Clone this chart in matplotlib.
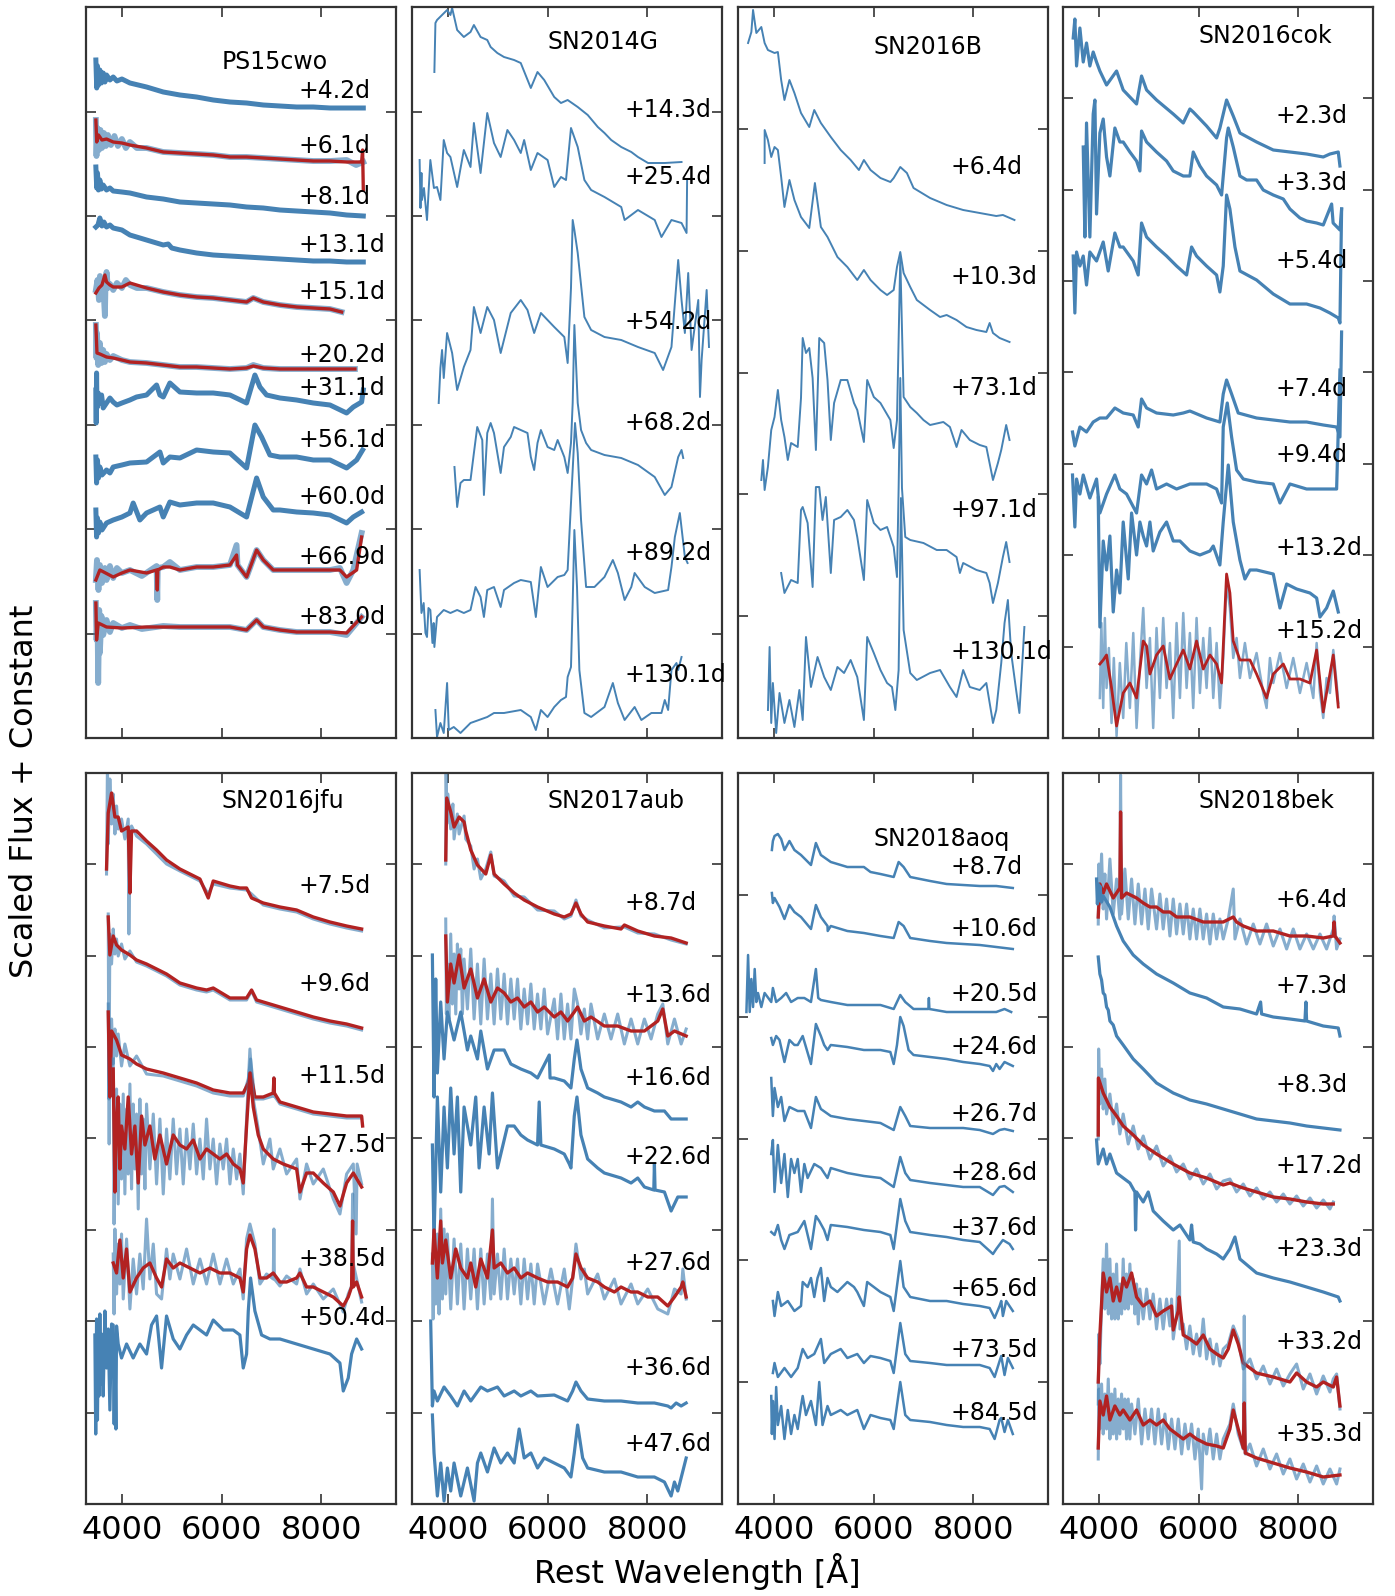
import numpy as np
import matplotlib
matplotlib.use("Agg")
import matplotlib.pyplot as plt

# ===================== DATA =====================
# Each spectrum: list of (rest wavelength [A], scaled flux + constant)
# *_RAW: unbinned spectrum drawn under a binned (red) spectrum; None = single spectrum

# ---------- PS15cwo ----------
PS15CWO_PHASES = ['+4.2d', '+6.1d', '+8.1d', '+13.1d', '+15.1d', '+20.2d',
                  '+31.1d', '+56.1d', '+60.0d', '+66.9d', '+83.0d']
PS15CWO_SPECTRA = [
    [(3478,67.8),(3495,65.0),(3510,67.2),(3530,65.3),(3558,66.8),(3590,65.5),(3625,66.5),(3660,65.6),(3692,66.3),(3760,65.8),(3826,66.1),(3900,65.7),(4000,65.9),(4161,65.5),(4495,65.1),(4830,64.6),(5164,64.3),(5499,64.1),(5833,63.8),(6168,63.6),(6502,63.5),(6837,63.3),(7171,63.2),(7506,63.1),(7840,63.1),(8175,63.0),(8509,63.0),(8844,63.0)],
    [(3478,61.8),(3495,59.6),(3530,60.3),(3600,59.8),(3692,59.9),(3826,59.6),(4000,59.5),(4161,59.3),(4495,59.0),(4830,58.6),(5164,58.5),(5499,58.4),(5833,58.3),(6168,58.1),(6502,58.1),(6837,58.0),(7171,57.9),(7506,57.8),(7840,57.7),(8175,57.7),(8509,57.6),(8810,57.6),(8830,58.8),(8844,54.8)],
    [(3478,57.1),(3495,55.0),(3510,56.5),(3530,54.8),(3558,55.8),(3590,54.9),(3625,55.3),(3692,54.8),(3760,55.0),(3826,54.7),(4000,54.6),(4161,54.5),(4495,54.1),(4830,53.9),(5164,53.6),(5499,53.5),(5833,53.4),(6168,53.3),(6502,53.1),(6837,53.0),(7171,52.8),(7506,52.7),(7840,52.6),(8175,52.5),(8509,52.3),(8844,52.2)],
    [(3478,51.1),(3520,51.3),(3558,52.0),(3600,51.2),(3640,51.6),(3692,51.1),(3760,51.3),(3826,51.0),(4000,50.8),(4161,50.3),(4495,49.8),(4830,49.3),(4930,49.4),(5000,49.0),(5164,48.8),(5499,48.5),(5833,48.3),(6168,48.2),(6502,48.1),(6837,48.0),(7171,47.9),(7506,47.8),(7840,47.7),(8175,47.7),(8509,47.6),(8844,47.6)],
    [(3478,44.5),(3540,45.0),(3600,45.3),(3659,46.3),(3692,45.6),(3760,45.3),(3826,45.1),(4000,45.1),(4161,45.5),(4495,45.0),(4830,44.6),(5164,44.3),(5499,44.1),(5833,44.0),(6168,43.8),(6502,43.6),(6636,44.0),(6837,43.6),(7171,43.3),(7506,43.1),(7840,43.0),(8175,42.9),(8409,42.6)],
    [(3478,41.3),(3500,38.5),(3558,38.4),(3692,38.1),(3826,38.0),(4000,37.8),(4161,37.6),(4495,37.5),(4830,37.3),(5164,37.1),(5499,37.1),(5833,37.0),(6168,36.9),(6502,37.0),(6636,37.2),(6837,37.0),(7171,36.9),(7506,36.9),(7840,36.9),(8175,36.9),(8676,36.9)],
    [(3478,34.8),(3485,31.5),(3492,36.5),(3500,33.0),(3525,34.5),(3558,33.5),(3592,34.3),(3625,33.0),(3692,33.5),(3760,34.0),(3826,33.6),(3900,33.3),(4000,33.5),(4161,33.8),(4294,34.1),(4495,34.3),(4696,35.3),(4763,34.3),(4830,34.1),(4963,35.5),(5164,34.6),(5499,34.5),(5833,34.5),(6168,34.3),(6502,33.5),(6669,36.3),(6770,35.1),(6903,34.3),(7171,34.0),(7506,33.8),(7840,33.5),(8175,33.3),(8509,32.5),(8643,33.1),(8810,33.6),(8844,34.8)],
    [(3478,28.1),(3492,25.5),(3510,27.8),(3530,26.0),(3558,27.1),(3600,26.3),(3692,26.8),(3760,26.5),(3826,27.1),(4000,27.3),(4161,27.5),(4495,27.6),(4763,28.6),(4830,27.5),(4963,28.1),(5164,28.0),(5499,28.8),(5833,28.6),(6168,28.5),(6502,27.0),(6669,31.3),(6803,30.1),(6970,28.3),(7171,28.1),(7506,28.1),(7840,27.8),(8175,27.8),(8509,27.0),(8710,27.8),(8830,28.8)],
    [(3478,22.8),(3492,20.1),(3510,22.0),(3530,20.5),(3558,21.6),(3600,20.8),(3692,21.5),(3826,21.8),(4000,22.1),(4161,22.5),(4227,23.5),(4361,21.8),(4495,22.5),(4763,23.1),(4830,22.1),(4963,23.6),(5164,23.3),(5499,23.5),(5833,23.5),(6168,23.1),(6502,22.1),(6703,26.0),(6837,24.1),(7037,22.8),(7171,22.8),(7506,22.6),(7840,22.5),(8175,22.3),(8509,21.5),(8643,22.1),(8810,22.6)],
    [(3478,15.8),(3558,16.8),(3826,16.1),(4000,16.5),(4161,16.8),(4495,16.5),(4696,16.8),(4710,14.8),(4720,16.8),(4830,17.1),(4963,17.1),(5164,16.8),(5499,17.1),(5833,17.1),(6168,17.3),(6301,18.3),(6320,17.3),(6502,16.1),(6703,18.8),(6837,17.8),(7037,16.8),(7506,16.8),(8175,16.8),(8375,16.8),(8509,16.1),(8710,16.8),(8810,20.1)],
    [(3478,13.5),(3492,9.8),(3525,11.5),(3692,11.1),(4000,11.0),(4495,11.1),(4830,11.1),(5499,11.1),(6168,11.1),(6502,10.8),(6703,11.8),(6837,11.1),(7171,10.8),(7506,10.6),(8175,10.6),(8509,10.5),(8810,12.1)],
]
PS15CWO_RAW = [
    None,
    [(3478,61.8),(3490,58.2),(3510,61.0),(3540,58.8),(3570,60.8),(3600,59.0),(3640,60.5),(3680,59.2),(3720,60.3),(3780,59.3),(3850,60.2),(3920,59.2),(4000,59.9),(4080,59.0),(4161,59.6),(4300,59.0),(4495,59.0),(4830,58.6),(5164,58.5),(5499,58.4),(5833,58.3),(6168,58.1),(6502,58.1),(6837,58.0),(7171,57.9),(7506,57.8),(7840,57.7),(8175,57.7),(8509,57.8),(8700,57.3),(8844,57.6)],
    None, None,
    [(3478,44.8),(3510,45.8),(3540,43.8),(3560,46.2),(3600,44.5),(3625,45.5),(3659,42.2),(3670,45.0),(3692,46.6),(3720,45.0),(3760,45.4),(3826,44.8),(3900,45.5),(4000,45.0),(4080,45.8),(4161,45.3),(4300,45.0),(4495,45.0),(4830,44.6),(5164,44.3),(5499,44.1),(5833,44.0),(6168,43.8),(6502,43.6),(6636,44.0),(6837,43.6),(7171,43.3),(7506,43.1),(7840,43.0),(8175,42.9),(8409,42.6)],
    [(3478,41.3),(3490,38.0),(3500,40.5),(3525,37.3),(3558,39.5),(3592,37.5),(3625,38.8),(3659,37.6),(3692,38.4),(3760,37.8),(3826,38.2),(4000,37.8),(4161,37.6),(4495,37.5),(4830,37.3),(5164,37.1),(5499,37.1),(5833,37.0),(6168,36.9),(6502,37.0),(6636,37.3),(6837,37.0),(7171,36.9),(7506,36.9),(7840,36.9),(8175,36.9),(8676,36.9)],
    None, None, None,
    [(3478,15.8),(3500,17.8),(3530,14.8),(3558,17.3),(3600,15.5),(3659,17.0),(3692,15.8),(3760,17.2),(3826,16.0),(3900,17.0),(4000,16.5),(4161,16.8),(4400,16.2),(4696,17.2),(4710,13.8),(4720,17.0),(4830,17.1),(4963,17.6),(5164,16.8),(5499,17.1),(5833,17.1),(6168,17.3),(6301,19.3),(6320,17.3),(6502,16.1),(6703,18.8),(6837,17.8),(7037,16.8),(7171,16.8),(7506,16.8),(7840,16.8),(8175,16.8),(8375,17.0),(8509,15.5),(8643,16.8),(8810,20.5)],
    [(3478,13.5),(3492,9.8),(3510,12.5),(3525,5.5),(3545,12.8),(3558,8.5),(3590,12.2),(3625,10.3),(3692,11.8),(3760,10.6),(3826,11.5),(4000,11.0),(4161,11.3),(4400,10.9),(4830,11.2),(5164,11.1),(5499,11.1),(5833,11.1),(6168,11.1),(6502,10.8),(6703,11.8),(6837,11.1),(7171,10.8),(7506,10.6),(7840,10.6),(8175,10.6),(8509,10.3),(8810,12.1)],
]

# ---------- SN2014G ----------
SN2014G_PHASES = ['+14.3d', '+25.4d', '+54.2d', '+68.2d', '+89.2d', '+130.1d']
SN2014G_SPECTRA = [
    [(3729,66.6),(3750,71.5),(3782,71.8),(3883,72.3),(3984,72.8),(4051,72.3),(4085,73.0),(4186,70.8),(4320,70.1),(4454,70.6),(4522,71.3),(4656,70.1),(4790,69.8),(4858,69.1),(4992,68.5),(5126,68.1),(5328,67.8),(5462,67.5),(5664,65.0),(5798,66.6),(5933,65.8),(6134,64.1),(6269,63.5),(6403,63.8),(6605,63.1),(6806,62.3),(7008,61.1),(7142,60.5),(7277,59.8),(7478,59.1),(7680,58.6),(7814,58.1),(8016,57.5),(8352,57.5),(8688,57.6)],
    [(3433,57.8),(3450,53.0),(3470,56.5),(3480,53.8),(3520,55.0),(3581,51.8),(3648,57.8),(3720,55.0),(3782,55.1),(3850,53.8),(3917,59.8),(3984,58.5),(4051,58.1),(4186,55.1),(4320,58.8),(4454,57.1),(4522,61.5),(4656,56.5),(4790,62.5),(4925,59.5),(5059,58.1),(5194,60.8),(5328,59.8),(5462,58.5),(5530,59.8),(5664,56.8),(5798,58.5),(6000,57.8),(6134,55.1),(6269,56.1),(6370,55.8),(6470,61.0),(6605,59.1),(6739,55.8),(6874,54.8),(7142,54.1),(7478,53.1),(7546,51.8),(7814,52.8),(8150,51.8),(8285,50.1),(8486,51.8),(8688,51.5),(8789,50.5),(8800,55.8)],
    [(3816,33.5),(3850,37.0),(3883,38.8),(3917,36.0),(3984,40.5),(4085,38.5),(4186,34.8),(4320,37.1),(4454,38.8),(4522,43.1),(4656,40.5),(4790,43.1),(4925,41.8),(5059,38.5),(5261,42.5),(5462,43.8),(5597,42.8),(5731,40.5),(5866,42.5),(6134,41.1),(6336,40.1),(6403,37.5),(6470,45.0),(6504,51.8),(6538,50.8),(6605,48.5),(6739,42.1),(6874,40.8),(7142,40.1),(7478,39.8),(7814,39.1),(8150,38.5),(8318,36.8),(8486,39.1),(8621,47.8),(8688,43.8),(8755,40.5),(8822,46.5),(8890,38.8),(9024,43.8),(9058,34.1),(9091,37.8),(9192,44.8),(9239,39.1)],
    [(4132,27.1),(4186,23.1),(4253,25.5),(4320,25.8),(4454,25.8),(4522,28.5),(4589,31.1),(4690,29.8),(4723,24.3),(4790,30.5),(4858,31.5),(4925,30.5),(4992,28.5),(5059,26.5),(5126,29.1),(5261,30.1),(5328,31.1),(5462,30.8),(5597,30.5),(5664,28.1),(5731,26.8),(5798,29.5),(5866,30.8),(6000,29.1),(6134,28.8),(6202,29.8),(6336,28.1),(6403,26.5),(6470,29.5),(6504,33.5),(6538,41.3),(6605,33.5),(6672,30.8),(6773,29.5),(6874,28.8),(7142,28.3),(7478,28.0),(7814,27.3),(8150,26.1),(8352,24.3),(8486,25.1),(8621,28.1),(8688,28.8),(8722,28.0)],
    [(3433,16.8),(3470,12.5),(3514,13.5),(3550,10.5),(3581,10.1),(3610,13.0),(3648,12.8),(3690,9.5),(3715,11.5),(3729,9.1),(3782,12.1),(3917,12.8),(4051,12.5),(4186,12.8),(4320,12.5),(4454,12.8),(4555,15.1),(4656,14.1),(4723,12.1),(4790,14.8),(4925,15.1),(5059,13.1),(5126,14.8),(5328,15.5),(5462,15.8),(5664,15.6),(5765,12.1),(5866,17.1),(6000,15.1),(6202,16.1),(6336,16.3),(6403,16.8),(6470,23.5),(6504,26.8),(6551,31.5),(6605,28.5),(6672,21.8),(6773,15.1),(6941,15.1),(7142,16.1),(7310,17.8),(7411,16.5),(7546,13.8),(7680,15.1),(7747,16.5),(7949,15.1),(8150,14.5),(8419,14.8),(8486,17.1),(8554,20.1),(8654,22.5),(8755,18.1),(8809,17.5)],
    [(3750,2.8),(3782,0.1),(3850,1.5),(3917,0.5),(3984,5.5),(4018,0.8),(4118,1.1),(4253,0.5),(4454,1.5),(4790,2.1),(4925,2.5),(5126,2.5),(5462,2.8),(5664,2.1),(5765,0.8),(5866,2.8),(6000,2.1),(6134,3.1),(6269,3.8),(6370,4.1),(6403,6.1),(6470,7.1),(6504,13.5),(6538,20.8),(6591,15.1),(6638,6.8),(6739,2.5),(6874,2.1),(7142,3.1),(7310,5.5),(7411,3.5),(7546,1.8),(7747,3.1),(7882,1.8),(8083,2.5),(8285,2.5),(8352,3.8),(8419,2.8),(8486,6.8),(8587,7.5),(8621,6.8),(8688,8.1)],
]
SN2014G_RAW = [None] * 6

# ---------- SN2016B ----------
SN2016B_PHASES = ['+6.4d', '+10.3d', '+73.1d', '+97.1d', '+130.1d']
SN2016B_SPECTRA = [
    [(3482,69.5),(3548,70.6),(3582,72.8),(3648,70.5),(3748,71.1),(3814,69.5),(3880,68.8),(4013,68.5),(4080,68.6),(4146,65.8),(4212,63.8),(4312,65.8),(4412,64.5),(4544,62.5),(4710,61.1),(4810,62.8),(4943,61.5),(5142,60.1),(5341,58.8),(5540,57.8),(5706,56.8),(5806,57.8),(5939,56.8),(6138,56.0),(6337,55.6),(6404,56.0),(6536,57.1),(6669,56.5),(6802,55.0),(7134,54.0),(7466,53.3),(7798,52.8),(8130,52.5),(8462,52.2),(8595,52.3),(8827,51.8)],
    [(3814,57.5),(3815,60.8),(3880,59.8),(3947,58.1),(4013,59.1),(4080,58.8),(4146,56.1),(4212,53.1),(4312,55.8),(4412,53.8),(4544,52.1),(4710,51.0),(4823,55.5),(4943,51.1),(5076,50.1),(5275,48.1),(5474,47.1),(5673,45.8),(5806,46.8),(5939,45.8),(6138,44.8),(6271,44.3),(6404,44.8),(6470,47.1),(6536,48.6),(6603,46.5),(6736,45.1),(6868,43.8),(7134,42.8),(7334,42.1),(7466,42.3),(7665,41.8),(7864,41.1),(8064,40.8),(8263,40.6),(8329,41.5),(8396,40.5),(8529,40.0),(8728,39.6)],
    [(3748,25.8),(3781,27.8),(3814,24.8),(3880,27.1),(3947,30.8),(4013,32.1),(4080,34.8),(4146,31.8),(4212,30.1),(4279,27.8),(4345,29.5),(4478,29.1),(4544,34.0),(4578,40.0),(4644,38.5),(4710,39.0),(4777,36.0),(4843,28.8),(4910,40.0),(5009,39.5),(5076,35.8),(5142,29.8),(5208,33.5),(5341,35.8),(5474,35.8),(5607,33.5),(5673,32.8),(5806,29.6),(5872,35.8),(6005,34.1),(6138,33.5),(6337,31.8),(6404,29.0),(6470,31.8),(6536,48.0),(6603,34.1),(6736,33.1),(6868,32.5),(7001,31.8),(7134,31.3),(7400,31.6),(7532,31.1),(7665,29.1),(7765,30.8),(7931,29.8),(8130,29.3),(8263,29.1),(8396,25.8),(8495,27.5),(8562,28.8),(8661,31.3),(8728,29.8)],
    [(4146,16.5),(4212,14.5),(4345,15.8),(4478,15.5),(4544,22.8),(4578,23.1),(4677,21.5),(4777,15.1),(4843,25.1),(4910,25.1),(4976,21.8),(5042,24.1),(5142,16.5),(5208,21.8),(5341,22.1),(5474,22.8),(5607,21.8),(5673,20.1),(5806,15.8),(5872,23.8),(6005,21.5),(6138,20.8),(6271,21.1),(6404,19.1),(6470,16.1),(6503,25.0),(6536,36.0),(6570,25.0),(6636,20.1),(6736,19.8),(7001,19.5),(7267,18.8),(7466,18.8),(7665,18.1),(7732,16.5),(7798,17.5),(8064,16.8),(8263,16.5),(8329,15.5),(8396,13.5),(8495,15.5),(8595,18.1),(8661,19.6),(8728,17.6)],
    [(3881,2.8),(3914,9.1),(3947,1.5),(3980,5.5),(4046,0.5),(4113,4.5),(4212,1.5),(4312,3.8),(4412,1.1),(4511,4.8),(4578,1.8),(4644,10.1),(4744,5.1),(4876,8.1),(5009,6.1),(5142,4.8),(5275,7.1),(5408,6.5),(5540,7.8),(5673,6.1),(5806,1.8),(5872,10.1),(6005,8.5),(6138,6.8),(6271,5.5),(6370,5.1),(6437,2.8),(6503,6.8),(6550,24.0),(6603,10.8),(6736,6.5),(6868,5.8),(7134,6.5),(7334,6.8),(7532,5.1),(7665,4.1),(7798,6.8),(7931,5.1),(8130,4.8),(8263,5.5),(8396,1.5),(8462,2.8),(8562,7.5),(8628,11.5),(8695,13.8),(8761,8.5),(8860,4.8),(8926,2.5),(9026,11.1)],
]
SN2016B_RAW = [None] * 5

# ---------- SN2016cok ----------
SN2016COK_PHASES = ['+2.3d', '+3.3d', '+5.4d', '+7.4d', '+9.4d', '+13.2d', '+15.2d']
SN2016COK_SPECTRA = [
    [(3485,70.0),(3518,71.9),(3552,67.2),(3619,71.0),(3686,67.6),(3752,69.5),(3819,67.2),(3886,68.6),(3953,67.6),(4020,66.7),(4154,65.3),(4355,66.7),(4488,64.8),(4756,63.4),(4856,66.2),(4957,64.8),(5157,63.8),(5492,62.4),(5693,61.5),(5826,62.9),(5893,62.6),(6161,61.2),(6362,60.0),(6428,61.0),(6562,63.8),(6696,62.2),(6830,60.5),(7164,59.6),(7499,58.8),(7833,58.6),(8168,58.4),(8502,58.1),(8636,58.4),(8803,58.6),(8837,57.2)],
    [(3686,59.1),(3719,50.1),(3752,61.5),(3819,50.1),(3886,62.4),(3920,63.8),(3953,52.4),(4020,60.5),(4087,61.9),(4154,58.1),(4221,56.2),(4321,61.0),(4421,59.6),(4488,59.6),(4622,58.6),(4756,57.7),(4823,56.7),(4856,60.7),(4957,59.6),(5157,58.6),(5358,57.7),(5492,56.7),(5693,56.2),(5826,56.2),(5893,58.6),(6027,57.2),(6161,56.2),(6362,55.3),(6462,54.3),(6562,60.0),(6596,61.0),(6696,59.1),(6830,56.2),(6964,55.8),(7164,55.8),(7298,54.8),(7499,54.3),(7700,53.9),(7833,52.9),(8034,52.0),(8168,51.7),(8369,51.5),(8502,51.3),(8670,53.4),(8700,51.5),(8837,50.8),(8870,52.9)],
    [(3485,48.2),(3518,42.5),(3552,48.6),(3619,47.2),(3686,48.2),(3752,45.3),(3819,48.6),(3953,47.7),(4087,49.6),(4187,46.7),(4321,50.5),(4421,49.1),(4488,49.1),(4689,47.7),(4789,46.3),(4856,51.5),(4957,50.1),(5157,49.1),(5358,48.2),(5559,47.2),(5760,46.3),(5860,49.1),(5960,48.2),(6161,47.2),(6362,46.3),(6428,44.6),(6495,47.2),(6562,54.3),(6629,52.9),(6730,49.1),(6830,46.7),(7164,45.8),(7499,44.4),(7833,43.4),(8168,43.4),(8436,43.0),(8636,42.5),(8803,42.0),(8837,41.5),(8870,52.9)],
    [(3471,30.6),(3518,29.2),(3619,31.1),(3752,30.6),(3886,31.6),(4020,32.0),(4154,32.0),(4321,33.0),(4488,32.5),(4689,32.3),(4789,31.1),(4856,33.9),(4957,33.0),(5157,32.5),(5492,32.3),(5693,32.5),(5826,32.7),(6161,32.0),(6428,31.6),(6495,34.4),(6562,35.8),(6663,34.4),(6796,32.5),(7164,32.0),(7499,31.8),(7833,31.6),(8168,31.6),(8502,31.3),(8770,31.1),(8837,30.1),(8870,40.6)],
    [(3471,26.3),(3518,21.1),(3552,25.9),(3619,24.4),(3686,26.3),(3819,24.0),(3953,25.9),(4020,22.5),(4154,24.4),(4321,26.3),(4421,24.9),(4555,24.4),(4756,22.5),(4856,26.3),(4957,25.4),(5057,26.8),(5157,24.9),(5358,25.4),(5559,24.9),(5826,25.4),(6161,25.4),(6362,24.9),(6462,23.5),(6495,31.1),(6576,33.5),(6663,30.1),(6763,26.8),(6897,25.9),(7164,25.6),(7499,25.4),(7633,23.5),(7833,25.4),(8168,24.9),(8502,24.9),(8770,24.9),(8837,36.8)],
    [(3987,24.0),(4020,11.1),(4087,19.7),(4154,16.8),(4221,20.2),(4288,12.6),(4355,16.8),(4421,14.5),(4488,21.6),(4589,15.9),(4656,22.5),(4756,18.3),(4823,21.6),(4890,20.2),(4957,19.2),(5024,21.6),(5090,18.7),(5224,20.6),(5358,21.6),(5492,19.7),(5626,19.7),(5826,18.7),(6027,18.3),(6228,18.7),(6295,19.2),(6428,17.3),(6495,21.6),(6596,27.3),(6696,21.6),(6830,17.8),(6930,15.9),(7031,16.8),(7164,16.8),(7499,16.4),(7633,13.0),(7767,15.4),(7967,14.9),(8235,14.5),(8369,14.0),(8436,12.1),(8569,13.0),(8703,14.7),(8803,12.6)],
    [(4020,7.4),(4087,7.8),(4154,8.3),(4254,5.0),(4355,1.2),(4488,4.5),(4622,5.5),(4756,4.0),(4890,9.7),(4957,9.2),(5024,6.4),(5157,8.3),(5291,9.2),(5425,5.9),(5559,7.4),(5693,8.8),(5826,6.9),(5960,9.7),(6094,6.9),(6228,8.3),(6362,7.4),(6462,5.5),(6562,16.4),(6629,14.5),(6696,9.7),(6830,7.8),(7031,7.8),(7164,6.4),(7365,4.0),(7499,6.4),(7700,7.4),(7833,5.9),(8034,5.9),(8235,5.5),(8369,8.8),(8502,2.6),(8603,5.5),(8703,8.3),(8803,3.1)],
]
SN2016COK_RAW = [None] * 6 + [
    [(4020,4.0),(4050,11.5),(4087,3.0),(4120,12.0),(4154,5.0),(4200,9.0),(4254,1.5),(4300,8.0),(4355,0.2),(4420,7.5),(4488,2.0),(4550,9.5),(4622,3.0),(4690,10.5),(4756,1.0),(4830,8.0),(4890,13.0),(4957,5.0),(5024,10.0),(5090,1.0),(5157,11.0),(5224,4.0),(5291,12.0),(5358,5.0),(5425,9.5),(5492,2.0),(5559,11.5),(5626,4.0),(5693,12.5),(5760,5.0),(5826,10.5),(5893,3.0),(5960,12.0),(6027,4.5),(6094,10.0),(6161,5.0),(6228,11.0),(6295,4.0),(6362,9.5),(6428,3.0),(6495,8.0),(6562,15.5),(6629,13.0),(6696,8.0),(6763,10.0),(6830,6.0),(6930,9.5),(7031,6.0),(7164,8.5),(7298,4.5),(7365,3.0),(7432,8.0),(7499,5.5),(7633,8.5),(7767,5.0),(7900,8.0),(8034,4.5),(8168,7.5),(8302,4.0),(8369,9.5),(8436,4.5),(8502,2.0),(8569,6.0),(8636,4.5),(8703,8.8),(8770,5.5),(8803,3.5)]
]

# ---------- SN2016jfu ----------
SN2016JFU_PHASES = ['+7.5d', '+9.6d', '+11.5d', '+27.5d', '+38.5d', '+50.4d']
SN2016JFU_SPECTRA = [
    [(3692,63.5),(3726,69.1),(3793,71.1),(3860,68.7),(3926,68.7),(3993,67.3),(4127,67.7),(4161,61.1),(4194,67.3),(4294,67.3),(4495,66.3),(4696,65.4),(4896,64.4),(5164,63.5),(5365,63.0),(5566,62.5),(5733,60.6),(5833,62.3),(6168,61.8),(6368,61.6),(6502,61.6),(6602,60.6),(6837,60.1),(7171,59.7),(7506,59.4),(7840,58.7),(8175,58.2),(8509,57.8),(8810,57.5)],
    [(3726,58.7),(3759,54.9),(3826,56.8),(3893,55.9),(3993,55.4),(4161,54.9),(4294,54.4),(4495,54.0),(4696,53.5),(4896,53.0),(5164,52.1),(5499,51.6),(5699,51.4),(5833,51.6),(6168,50.6),(6502,50.6),(6602,51.4),(6703,50.4),(7171,49.7),(7506,49.2),(7840,48.7),(8175,48.3),(8509,48.0),(8810,47.6)],
    [(3726,49.2),(3759,40.7),(3793,47.3),(3893,46.4),(3993,44.9),(4161,44.5),(4294,44.0),(4495,43.5),(4830,43.1),(5164,42.6),(5499,42.1),(5833,41.4),(6168,41.1),(6435,41.1),(6536,42.1),(6582,43.1),(6669,40.7),(6837,40.7),(7037,41.1),(7050,42.6),(7060,41.1),(7171,40.2),(7506,39.7),(7840,39.2),(8175,39.0),(8509,38.8),(8810,38.8),(8830,37.8)],
    [(3826,43.5),(3860,31.2),(3893,38.3),(3926,40.7),(3960,33.5),(3993,37.8),(4060,35.5),(4127,40.7),(4194,35.0),(4261,37.8),(4328,32.1),(4395,38.8),(4462,35.9),(4562,37.8),(4662,34.5),(4763,36.9),(4896,34.0),(5030,36.9),(5164,35.9),(5298,35.5),(5432,36.4),(5566,34.5),(5699,35.5),(5833,35.0),(5967,34.5),(6101,35.0),(6235,34.0),(6368,33.5),(6435,32.1),(6502,37.8),(6569,43.1),(6636,39.7),(6736,36.9),(6837,35.5),(7037,34.5),(7238,34.0),(7506,33.5),(7573,31.2),(7706,33.1),(7840,33.1),(8041,32.1),(8242,31.2),(8375,29.8),(8509,32.1),(8643,33.1),(8810,31.7)],
    [(3826,24.1),(3893,23.1),(3960,26.4),(4027,22.6),(4094,25.5),(4161,21.2),(4294,22.6),(4428,23.6),(4562,24.1),(4696,22.6),(4796,21.7),(4896,24.5),(5030,23.6),(5164,24.1),(5365,23.6),(5566,23.1),(5766,23.6),(5967,23.1),(6168,23.1),(6368,22.6),(6435,21.2),(6502,25.5),(6569,26.9),(6669,25.5),(6770,22.6),(6903,22.6),(7037,23.1),(7171,22.2),(7305,22.2),(7506,22.6),(7573,23.1),(7706,21.7),(7840,21.7),(8041,21.2),(8242,20.7),(8442,19.8),(8542,20.7),(8609,21.7),(8629,28.3),(8643,21.7),(8710,22.2),(8810,20.7)],
    [(3458,16.9),(3475,7.0),(3492,18.5),(3510,8.4),(3525,16.0),(3540,10.8),(3558,19.0),(3575,12.0),(3592,17.0),(3625,10.8),(3659,19.3),(3692,13.6),(3726,17.5),(3759,9.4),(3793,18.0),(3826,17.9),(3845,8.0),(3860,16.0),(3880,7.5),(3893,17.8),(3926,16.0),(3993,14.6),(4094,16.0),(4227,14.6),(4361,16.0),(4495,15.0),(4595,17.9),(4696,18.8),(4796,13.6),(4896,18.8),(5030,16.5),(5164,15.5),(5298,16.9),(5432,17.9),(5566,17.4),(5699,16.9),(5833,18.4),(6034,17.4),(6235,17.4),(6368,16.9),(6435,13.6),(6502,15.0),(6536,19.3),(6582,22.6),(6669,19.3),(6803,16.9),(6970,16.5),(7171,16.5),(7506,16.0),(7840,15.5),(8175,15.0),(8375,14.1),(8442,11.3),(8542,12.6),(8609,15.0),(8710,16.5),(8810,15.5)],
]
SN2016JFU_RAW = [
    [(3692,63.0),(3710,73.9),(3726,66.0),(3759,72.5),(3793,68.0),(3826,71.0),(3860,67.0),(3893,69.8),(3926,67.5),(3993,68.5),(4060,66.5),(4127,68.5),(4140,57.0),(4161,66.0),(4194,67.8),(4294,66.8),(4495,66.0),(4696,65.0),(4896,64.0),(5164,63.3),(5566,62.3),(5733,61.0),(5833,62.0),(6168,61.6),(6502,61.4),(6602,61.0),(6837,59.9),(7171,59.5),(7506,59.2),(7840,58.5),(8175,58.0),(8509,57.6),(8810,57.3)],
    [(3726,59.0),(3740,40.5),(3759,57.0),(3793,54.0),(3826,57.5),(3860,55.0),(3893,56.5),(3926,54.8),(3993,56.0),(4060,54.5),(4161,55.3),(4294,54.2),(4495,53.8),(4696,53.3),(4896,52.8),(5164,51.9),(5499,51.4),(5699,51.2),(5833,51.4),(6168,50.4),(6502,50.4),(6602,51.3),(6703,50.2),(7171,49.5),(7506,49.0),(7840,48.5),(8175,48.1),(8509,47.8),(8810,47.4)],
    [(3726,50.0),(3745,36.0),(3759,46.0),(3793,48.5),(3826,44.0),(3860,47.5),(3893,44.8),(3926,47.0),(3993,43.8),(4060,46.0),(4161,43.8),(4294,44.8),(4495,43.0),(4830,42.8),(5164,42.3),(5499,41.8),(5833,41.1),(6168,40.8),(6435,40.8),(6536,42.5),(6582,44.5),(6669,40.5),(6837,40.5),(7037,40.8),(7050,42.6),(7060,40.8),(7171,40.0),(7506,39.5),(7840,39.0),(8175,38.8),(8509,38.6),(8810,38.6)],
    [(3826,44.5),(3843,28.0),(3860,36.0),(3893,41.5),(3926,30.0),(3960,40.0),(3993,32.5),(4027,41.0),(4060,31.0),(4094,39.5),(4127,33.0),(4161,42.0),(4194,31.5),(4227,40.0),(4261,33.5),(4294,39.0),(4328,29.5),(4361,40.5),(4395,33.0),(4428,38.5),(4462,31.5),(4495,40.0),(4562,33.5),(4630,39.0),(4696,32.0),(4763,38.5),(4830,31.0),(4896,37.5),(4963,32.5),(5030,38.5),(5097,33.0),(5164,37.5),(5231,32.0),(5298,37.5),(5365,33.5),(5432,38.0),(5499,33.0),(5566,36.5),(5633,32.5),(5699,38.5),(5766,33.5),(5833,36.5),(5900,32.0),(5967,36.0),(6034,33.5),(6101,36.5),(6168,32.0),(6235,35.5),(6302,32.5),(6368,35.0),(6435,31.0),(6502,38.5),(6569,45.5),(6636,40.5),(6736,37.5),(6837,34.0),(6970,36.5),(7037,33.5),(7171,35.5),(7305,33.0),(7506,34.5),(7573,30.5),(7706,34.0),(7840,32.0),(8041,33.5),(8242,30.5),(8375,29.0),(8509,33.0),(8643,34.0),(8700,27.0),(8720,34.0),(8810,32.0)],
    [(3826,25.0),(3843,19.0),(3860,27.5),(3893,21.0),(3926,26.0),(3960,22.0),(3993,27.0),(4027,20.5),(4094,26.5),(4161,19.5),(4227,24.5),(4294,21.0),(4361,25.0),(4428,21.5),(4495,28.5),(4562,22.5),(4630,26.0),(4696,21.0),(4796,20.5),(4896,25.5),(4963,22.5),(5030,25.0),(5164,22.5),(5298,25.5),(5432,22.0),(5566,24.5),(5699,22.0),(5833,25.0),(5967,22.0),(6101,24.5),(6235,22.0),(6368,23.5),(6435,20.5),(6502,26.5),(6569,28.0),(6669,26.0),(6770,22.0),(6903,23.0),(7037,22.5),(7050,27.5),(7060,22.5),(7171,21.8),(7305,22.8),(7506,22.0),(7573,23.5),(7706,21.0),(7840,22.0),(8041,20.5),(8242,21.5),(8442,19.2),(8542,21.0),(8609,21.8),(8629,31.0),(8643,24.0),(8710,22.5),(8810,20.2)],
    None,
]

# ---------- SN2017aub ----------
SN2017AUB_PHASES = ['+8.7d', '+13.6d', '+16.6d', '+22.6d', '+27.6d', '+36.6d', '+47.6d']
SN2017AUB_SPECTRA = [
    [(3957,64.4),(3977,70.6),(4057,69.2),(4124,67.7),(4225,68.7),(4325,68.2),(4359,67.3),(4459,65.4),(4593,63.9),(4760,63.0),(4861,64.9),(4928,63.0),(5129,62.0),(5330,61.1),(5531,60.4),(5799,59.7),(6134,59.0),(6335,58.7),(6469,59.0),(6570,60.1),(6670,59.0),(6804,58.2),(7139,57.8),(7474,57.5),(7541,57.9),(7809,57.3),(8144,56.8),(8479,56.6),(8781,56.1)],
    [(3957,56.8),(3990,50.2),(4057,54.0),(4124,52.1),(4225,54.9),(4325,51.6),(4459,53.5),(4593,50.6),(4727,52.5),(4861,50.2),(4995,51.6),(5129,51.1),(5263,50.2),(5397,50.6),(5531,49.7),(5665,50.2),(5799,49.2),(5933,49.7),(6134,48.7),(6268,49.2),(6402,48.3),(6536,49.2),(6603,49.7),(6737,48.3),(6871,48.7),(7139,47.8),(7407,47.8),(7675,47.3),(7943,47.3),(8211,48.3),(8312,49.5),(8412,46.8),(8546,47.3),(8781,46.8)],
    [(3689,54.9),(3722,40.7),(3756,52.5),(3789,43.1),(3856,50.2),(3923,44.5),(3990,49.2),(4124,46.4),(4258,49.2),(4392,45.4),(4459,46.8),(4593,44.5),(4660,47.3),(4794,43.5),(4928,45.4),(5129,45.4),(5263,44.0),(5464,43.5),(5665,43.1),(5799,42.6),(6034,44.9),(6050,42.6),(6134,42.6),(6335,42.3),(6469,41.6),(6536,44.5),(6590,46.4),(6670,43.5),(6804,41.6),(7005,41.1),(7139,40.7),(7474,40.2),(7675,39.7),(7809,40.2),(7943,39.7),(8144,39.3),(8345,39.3),(8479,38.5),(8781,38.5)],
    [(3689,35.9),(3722,26.4),(3789,40.7),(3856,31.2),(3923,39.7),(3990,33.6),(4057,41.6),(4124,35.0),(4191,40.7),(4258,31.2),(4325,39.7),(4459,35.9),(4559,40.7),(4626,33.6),(4727,39.7),(4827,35.0),(4894,41.1),(4995,33.6),(5129,36.4),(5196,37.8),(5330,37.8),(5464,36.9),(5598,36.4),(5799,35.9),(5832,40.2),(5866,35.9),(6134,35.5),(6335,35.0),(6436,34.0),(6469,33.6),(6536,38.8),(6590,40.7),(6670,36.9),(6804,34.5),(7005,33.6),(7139,33.1),(7474,32.6),(7675,32.1),(7809,32.6),(7943,31.7),(8131,31.4),(8144,34.0),(8157,31.4),(8345,31.2),(8479,29.3),(8613,30.7),(8781,30.7)],
    [(3689,24.1),(3722,27.4),(3789,22.6),(3856,28.3),(3890,24.1),(3957,26.4),(4057,22.6),(4158,25.5),(4258,23.6),(4392,22.6),(4459,24.1),(4559,21.7),(4660,24.5),(4794,22.6),(4894,27.4),(4928,23.6),(5062,24.1),(5196,23.1),(5330,23.6),(5464,22.6),(5598,23.1),(5799,22.6),(6000,22.2),(6201,22.2),(6402,21.7),(6503,22.6),(6570,25.0),(6670,23.6),(6804,22.6),(7005,22.2),(7139,21.7),(7340,21.2),(7474,21.7),(7675,21.2),(7809,21.2),(8010,20.7),(8211,20.7),(8412,19.8),(8546,20.7),(8680,21.7),(8714,22.2),(8781,20.7)],
    [(3655,18.3),(3689,9.8),(3722,11.3),(3789,10.3),(3923,11.7),(4057,10.8),(4191,9.8),(4325,11.3),(4459,10.3),(4660,11.7),(4794,11.3),(4995,11.7),(5129,10.8),(5330,11.3),(5464,10.8),(5665,11.3),(5799,10.8),(6134,10.9),(6402,10.3),(6503,11.3),(6570,12.2),(6670,11.3),(6804,10.5),(7139,10.3),(7474,10.3),(7809,10.1),(8144,10.1),(8412,9.8),(8479,9.6),(8580,10.1),(8680,9.8),(8781,10.1)],
    [(3689,8.9),(3722,5.1),(3789,0.8),(3856,4.1),(3923,0.3),(3990,3.6),(4057,1.3),(4124,4.1),(4258,0.8),(4392,3.6),(4526,0.3),(4593,4.1),(4660,5.1),(4794,3.2),(4928,5.6),(5062,4.1),(5196,5.1),(5330,4.1),(5430,7.5),(5531,4.6),(5665,5.1),(5799,3.6),(5933,4.6),(6134,4.1),(6335,3.6),(6469,2.7),(6536,5.1),(6603,7.9),(6704,4.6),(6804,3.6),(7139,3.2),(7474,3.2),(7809,2.7),(8144,2.7),(8345,2.2),(8479,0.8),(8546,2.2),(8613,1.3),(8781,4.6)],
]
SN2017AUB_RAW = [
    [(3957,64.0),(3965,73.0),(3977,68.0),(4000,71.0),(4057,67.5),(4100,70.0),(4124,66.5),(4190,69.0),(4225,67.0),(4325,68.8),(4359,66.5),(4459,65.8),(4526,63.5),(4593,64.5),(4660,62.5),(4760,63.5),(4861,65.2),(4928,62.8),(5129,62.3),(5330,60.8),(5531,60.7),(5799,59.4),(6134,59.3),(6335,58.5),(6469,58.8),(6570,60.4),(6670,58.8),(6804,58.4),(7139,57.6),(7474,57.7),(7541,57.7),(7809,57.1),(8144,57.0),(8479,56.4),(8781,56.0)],
    [(3957,58.5),(3970,49.0),(3990,54.0),(4020,48.5),(4057,57.0),(4090,50.0),(4124,55.0),(4158,49.0),(4191,56.0),(4225,51.5),(4258,55.5),(4292,49.0),(4325,54.5),(4392,49.5),(4459,55.5),(4526,48.5),(4593,54.0),(4660,48.0),(4727,54.5),(4794,48.5),(4861,53.0),(4928,48.0),(4995,53.5),(5062,48.5),(5129,53.0),(5196,48.0),(5263,52.5),(5330,48.5),(5397,52.5),(5464,47.5),(5531,51.5),(5598,48.0),(5665,52.0),(5732,47.5),(5799,51.0),(5866,47.5),(5933,51.5),(6000,47.0),(6134,50.5),(6201,46.5),(6268,51.0),(6335,46.5),(6402,50.0),(6469,46.5),(6536,51.5),(6603,50.0),(6670,47.0),(6737,49.5),(6804,46.5),(6871,50.0),(7005,46.5),(7139,49.0),(7273,46.5),(7407,49.0),(7541,46.0),(7675,48.5),(7809,46.0),(7943,48.5),(8077,46.5),(8211,49.0),(8312,50.0),(8412,46.0),(8546,48.5),(8680,46.0),(8781,47.5)],
    None, None,
    [(3689,25.0),(3705,18.5),(3722,29.0),(3756,20.0),(3789,27.0),(3823,19.0),(3856,29.5),(3890,20.5),(3923,27.5),(3957,21.0),(3990,27.0),(4057,19.5),(4124,26.5),(4191,20.0),(4258,26.0),(4325,19.5),(4392,25.5),(4459,20.5),(4526,25.5),(4593,19.5),(4660,25.5),(4727,20.0),(4794,25.0),(4861,20.5),(4894,30.5),(4928,21.0),(4995,25.0),(5062,20.5),(5129,25.5),(5196,20.5),(5263,24.5),(5330,21.0),(5397,24.5),(5464,20.0),(5531,24.5),(5598,20.5),(5665,24.0),(5732,20.0),(5799,24.0),(5933,20.0),(6067,23.5),(6201,20.0),(6335,23.5),(6436,19.5),(6503,22.5),(6570,26.0),(6670,22.5),(6737,23.5),(6804,21.0),(7005,23.0),(7139,20.5),(7340,22.5),(7474,20.0),(7675,22.0),(7809,20.0),(8010,21.5),(8211,19.5),(8412,19.0),(8546,21.5),(8680,21.0),(8714,23.5),(8781,20.5)],
    None, None,
]

# ---------- SN2018aoq ----------
SN2018AOQ_PHASES = ['+8.7d', '+10.6d', '+20.5d', '+24.6d', '+26.7d', '+28.6d',
                    '+37.6d', '+65.6d', '+73.5d', '+84.5d']
SN2018AOQ_SPECTRA = [
    [(3960,65.4),(3980,66.3),(4013,66.8),(4080,67.0),(4146,66.5),(4212,65.4),(4312,66.3),(4412,65.4),(4544,64.9),(4744,63.9),(4843,66.1),(4943,64.9),(5142,64.2),(5474,63.7),(5806,63.7),(5939,63.2),(6138,63.0),(6404,62.7),(6503,64.2),(6603,63.7),(6736,62.7),(7134,62.3),(7466,62.0),(7798,61.9),(8130,61.8),(8462,61.8),(8794,61.6)],
    [(3960,61.1),(3980,60.1),(4013,60.6),(4113,59.7),(4212,58.5),(4312,59.9),(4412,59.2),(4544,58.7),(4744,57.5),(4843,59.9),(4943,58.7),(5076,57.8),(5080,57.3),(5142,57.8),(5474,57.3),(5806,57.1),(6138,56.8),(6404,56.6),(6503,58.2),(6603,57.8),(6736,56.6),(7134,56.3),(7466,56.1),(7798,56.0),(8130,55.9),(8462,55.7),(8794,55.5)],
    [(3449,49.2),(3482,54.9),(3515,49.2),(3548,52.5),(3582,49.7),(3615,53.5),(3648,50.2),(3681,51.1),(3748,49.7),(3814,51.1),(3947,50.2),(3980,51.6),(4046,50.2),(4146,50.6),(4246,51.1),(4345,50.2),(4478,50.6),(4611,50.6),(4744,50.2),(4843,53.5),(4890,50.6),(4943,50.4),(5142,50.2),(5474,49.9),(5806,49.9),(6138,49.9),(6404,49.5),(6536,50.9),(6636,50.2),(6802,49.5),(7100,49.5),(7110,50.6),(7120,49.5),(7466,49.2),(7798,49.2),(8130,49.2),(8462,49.2),(8628,49.5),(8761,49.2)],
    [(3947,46.6),(3980,45.9),(4046,46.8),(4113,46.4),(4212,44.2),(4312,46.4),(4412,45.9),(4478,45.9),(4578,46.8),(4744,44.0),(4843,48.0),(4943,46.8),(5009,45.9),(5076,45.4),(5142,45.9),(5474,45.7),(5806,45.4),(6138,45.4),(6337,45.2),(6404,44.0),(6470,45.9),(6536,48.7),(6603,47.8),(6703,45.4),(6802,44.9),(7134,44.7),(7466,44.5),(7798,44.2),(8130,44.0),(8329,43.8),(8396,43.3),(8462,44.0),(8529,43.5),(8628,44.2),(8794,43.8)],
    [(3947,42.6),(3980,38.8),(4013,41.6),(4080,39.7),(4146,40.7),(4212,38.3),(4312,39.7),(4478,39.3),(4611,39.3),(4744,37.6),(4843,40.7),(4943,39.5),(5142,38.8),(5474,38.5),(5806,38.3),(6138,38.1),(6404,37.4),(6536,39.7),(6636,38.8),(6736,37.8),(7134,37.6),(7466,37.6),(7798,37.6),(8130,37.4),(8396,37.0),(8529,37.4),(8628,37.5),(8794,37.3)],
    [(3947,35.0),(3980,36.4),(4013,31.2),(4080,35.9),(4146,32.1),(4212,35.0),(4279,30.7),(4345,34.5),(4412,33.1),(4478,34.5),(4544,31.2),(4611,34.0),(4677,32.6),(4810,34.0),(4943,33.6),(5076,32.6),(5142,33.6),(5341,33.3),(5474,33.1),(5806,32.8),(6138,32.6),(6404,31.7),(6536,34.7),(6636,33.1),(6736,32.4),(7134,32.1),(7466,31.9),(7798,31.7),(8130,31.7),(8396,30.9),(8529,31.7),(8628,31.8),(8794,31.2)],
    [(3947,27.2),(4013,26.9),(4080,27.9),(4146,26.4),(4212,25.5),(4312,26.9),(4478,27.2),(4611,28.3),(4744,25.5),(4843,28.8),(4910,28.3),(5009,27.4),(5076,26.4),(5142,27.9),(5474,27.7),(5806,27.4),(6138,27.2),(6337,26.9),(6404,25.5),(6536,30.5),(6636,28.3),(6736,27.2),(7134,26.9),(7466,26.7),(7798,26.4),(8130,26.2),(8396,25.0),(8462,25.5),(8595,26.4),(8728,26.0),(8794,25.5)],
    [(3980,20.3),(4013,18.8),(4080,21.2),(4146,19.8),(4279,20.3),(4412,19.3),(4544,19.8),(4578,22.2),(4677,21.7),(4744,22.6),(4810,20.7),(4876,22.6),(4943,23.6),(5009,20.3),(5076,22.6),(5142,21.7),(5275,21.2),(5474,22.2),(5607,21.7),(5673,21.2),(5806,19.8),(5872,22.2),(6005,21.7),(6138,21.2),(6337,20.7),(6404,19.3),(6536,24.3),(6603,21.7),(6736,20.7),(7134,20.3),(7466,20.3),(7798,20.0),(8130,19.8),(8329,19.6),(8429,18.6),(8529,19.8),(8562,20.3),(8595,18.8),(8661,20.3),(8794,19.3)],
    [(3980,13.1),(4013,14.1),(4080,12.7),(4212,13.6),(4345,12.7),(4478,13.6),(4578,15.5),(4677,14.6),(4810,15.0),(4943,16.5),(5009,14.1),(5142,15.0),(5341,15.5),(5474,14.6),(5673,15.0),(5806,14.1),(5939,14.8),(6138,14.6),(6337,14.3),(6404,13.1),(6536,18.1),(6636,15.0),(6736,14.3),(7134,14.1),(7466,13.9),(7798,13.9),(8130,13.9),(8329,13.6),(8429,12.7),(8529,14.3),(8562,14.8),(8628,12.9),(8695,14.6),(8794,13.6)],
    [(3947,10.8),(3960,7.0),(3980,10.3),(4013,6.5),(4046,11.7),(4080,7.9),(4146,9.8),(4212,6.5),(4279,9.4),(4345,7.0),(4412,8.9),(4478,7.5),(4544,9.8),(4578,10.8),(4644,8.9),(4744,10.3),(4843,7.9),(4910,12.2),(4976,7.9),(5076,9.8),(5142,8.9),(5341,9.4),(5474,8.9),(5673,9.4),(5806,7.5),(5939,8.9),(6138,8.6),(6337,8.4),(6404,7.5),(6536,12.2),(6636,8.9),(6736,8.4),(7134,8.2),(7466,7.9),(7798,7.7),(8130,7.7),(8329,7.5),(8429,6.5),(8529,8.4),(8562,8.6),(8628,7.2),(8695,8.4),(8794,7.0)],
]
SN2018AOQ_RAW = [None] * 10

# ---------- SN2018bek ----------
SN2018BEK_PHASES = ['+6.4d', '+7.3d', '+8.3d', '+17.2d', '+23.3d', '+33.2d', '+35.3d']
SN2018BEK_SPECTRA = [
    [(3987,58.7),(4020,62.0),(4087,61.1),(4154,62.0),(4288,60.6),(4421,61.6),(4435,69.2),(4455,60.6),(4555,61.1),(4756,60.6),(4890,60.1),(5024,59.7),(5157,59.7),(5291,59.2),(5425,59.2),(5559,58.7),(5826,58.7),(6094,58.2),(6295,58.2),(6495,58.2),(6696,58.7),(6763,58.2),(6897,57.8),(7164,57.3),(7499,57.3),(7833,56.8),(8168,56.8),(8502,56.6),(8703,56.8),(8720,58.2),(8737,56.8),(8837,56.1)],
    [(3953,62.5),(3970,60.0),(3987,62.0),(4003,60.3),(4020,61.8),(4054,60.2),(4087,60.8),(4221,59.7),(4355,57.8),(4488,56.3),(4689,54.9),(4890,54.0),(5157,53.0),(5492,52.1),(5826,51.1),(6161,50.6),(6495,49.7),(6830,49.5),(7164,49.0),(7245,50.2),(7265,49.0),(7499,48.7),(7833,48.5),(8134,48.3),(8154,50.2),(8168,48.3),(8502,47.8),(8803,47.6),(8837,46.8)],
    [(3987,54.7),(4020,53.0),(4054,52.4),(4087,51.1),(4120,50.9),(4154,49.7),(4188,49.4),(4221,48.3),(4288,47.9),(4355,46.8),(4488,45.9),(4689,44.5),(4890,43.5),(5157,42.1),(5492,41.1),(5826,40.4),(6161,40.0),(6495,39.5),(6830,39.0),(7164,38.5),(7499,38.3),(7833,38.1),(8168,37.8),(8502,37.6),(8837,37.4)],
    [(3987,36.9),(3990,42.6),(4087,41.1),(4221,39.7),(4355,38.8),(4488,37.8),(4689,36.9),(4890,35.9),(5157,35.0),(5492,34.0),(5826,33.1),(6161,32.6),(6495,31.9),(6629,32.1),(6830,31.7),(7164,31.2),(7499,30.7),(7833,30.5),(8168,30.2),(8502,30.0),(8703,30.0)],
    [(3953,36.4),(3987,34.0),(4087,35.5),(4154,34.0),(4221,35.0),(4355,33.1),(4488,32.6),(4622,32.1),(4723,31.2),(4736,27.4),(4756,31.2),(4890,30.2),(4990,31.2),(5090,29.3),(5291,28.3),(5492,27.4),(5626,27.9),(5826,26.4),(5860,27.9),(5893,26.2),(6027,26.0),(6161,25.5),(6362,25.0),(6495,24.5),(6629,25.5),(6730,26.7),(6830,24.5),(7164,23.1),(7499,22.6),(7833,22.2),(8168,21.7),(8502,21.2),(8803,20.7),(8837,20.3)],
    [(3987,12.2),(4020,16.9),(4087,23.1),(4154,21.2),(4221,22.6),(4288,20.3),(4355,21.7),(4421,20.3),(4488,22.6),(4555,21.7),(4656,23.1),(4756,20.7),(4890,19.8),(5024,20.3),(5157,18.8),(5291,19.3),(5458,19.8),(5492,17.4),(5592,19.3),(5612,20.7),(5639,19.3),(5693,16.9),(5826,16.5),(5960,16.0),(6094,16.9),(6228,15.5),(6362,15.0),(6495,14.6),(6596,15.5),(6696,17.4),(6796,16.0),(6897,14.1),(7164,13.1),(7499,12.7),(7833,12.2),(7967,13.1),(8168,12.2),(8369,11.7),(8502,12.2),(8703,11.7),(8770,12.7),(8837,9.8)],
    [(3987,5.6),(4020,10.3),(4087,8.9),(4154,10.8),(4221,8.4),(4321,9.8),(4421,8.9),(4488,9.4),(4622,8.4),(4756,9.4),(4890,7.9),(5024,8.4),(5157,7.9),(5291,8.4),(5425,7.5),(5559,7.0),(5693,6.5),(5826,7.0),(5960,6.5),(6161,6.0),(6362,5.8),(6495,5.6),(6629,7.5),(6696,9.4),(6796,7.5),(6897,5.6),(6917,10.1),(6937,5.1),(7164,4.6),(7499,4.1),(7833,3.6),(8168,3.2),(8502,2.7),(8837,2.9)],
]
SN2018BEK_RAW = [
    [(3987,58.0),(4000,64.0),(4020,60.0),(4054,65.0),(4087,59.5),(4120,63.0),(4154,58.5),(4221,64.5),(4288,59.0),(4355,62.5),(4421,58.5),(4435,72.9),(4455,59.0),(4521,63.5),(4589,58.5),(4656,62.5),(4723,58.0),(4790,62.0),(4857,58.0),(4924,61.5),(4990,57.5),(5057,61.5),(5157,57.5),(5224,61.0),(5291,57.5),(5358,60.5),(5425,56.8),(5492,60.5),(5559,57.0),(5626,60.0),(5693,57.0),(5760,60.0),(5826,56.5),(5893,59.5),(5960,56.5),(6027,59.5),(6094,56.5),(6161,59.0),(6228,56.0),(6295,59.0),(6362,56.5),(6428,58.5),(6495,56.5),(6596,58.5),(6696,61.5),(6730,56.5),(6830,58.5),(6964,56.0),(7098,58.0),(7231,56.0),(7365,58.0),(7499,55.8),(7633,57.5),(7767,55.5),(7900,57.5),(8034,55.5),(8168,57.0),(8302,55.5),(8436,57.0),(8569,55.5),(8703,57.5),(8720,58.8),(8770,55.5),(8837,56.5)],
    None, None,
    [(3987,36.5),(3995,45.5),(4020,40.0),(4054,43.5),(4087,39.5),(4120,42.5),(4154,39.0),(4221,41.0),(4288,38.0),(4355,40.0),(4421,37.0),(4488,39.0),(4589,36.0),(4689,37.8),(4790,35.5),(4890,36.8),(5024,34.5),(5157,35.8),(5291,33.8),(5425,34.8),(5559,33.2),(5693,34.0),(5826,32.5),(5960,33.5),(6094,32.0),(6228,33.0),(6362,31.5),(6495,32.3),(6629,32.5),(6763,31.2),(6897,32.0),(7031,30.8),(7164,31.6),(7298,30.5),(7432,31.2),(7566,30.2),(7700,31.0),(7833,30.0),(7967,30.8),(8101,29.8),(8235,30.6),(8369,29.6),(8502,30.4),(8636,29.5),(8703,30.2)],
    None,
    [(3987,10.0),(4000,17.0),(4020,14.0),(4054,20.0),(4087,24.5),(4120,19.5),(4154,26.0),(4190,19.0),(4221,24.5),(4255,18.5),(4288,23.0),(4321,18.5),(4355,24.0),(4388,18.5),(4421,22.0),(4455,19.0),(4488,24.5),(4521,19.5),(4555,23.0),(4589,19.5),(4622,24.0),(4656,20.0),(4690,22.5),(4723,19.0),(4756,22.0),(4790,18.0),(4823,21.5),(4890,18.5),(4957,21.5),(5024,18.5),(5090,21.0),(5157,17.5),(5224,20.5),(5291,17.5),(5358,20.5),(5425,17.8),(5458,20.5),(5492,16.5),(5560,19.0),(5612,26.3),(5626,17.5),(5693,18.0),(5760,15.5),(5826,17.8),(5893,15.0),(5960,17.0),(6027,14.8),(6094,18.5),(6161,14.5),(6228,16.5),(6295,14.0),(6362,16.0),(6428,13.8),(6495,15.5),(6596,16.0),(6696,17.8),(6796,16.5),(6897,13.5),(7031,14.5),(7164,12.5),(7298,13.8),(7432,12.0),(7566,13.5),(7700,11.8),(7833,13.0),(7967,14.0),(8101,11.5),(8235,13.0),(8369,11.0),(8502,12.8),(8636,11.2),(8703,12.5),(8770,13.0),(8837,9.5)],
    [(3987,4.5),(4000,11.5),(4020,7.5),(4054,12.0),(4087,7.0),(4120,11.0),(4154,7.5),(4188,12.5),(4221,6.5),(4255,11.0),(4288,7.0),(4321,11.5),(4355,6.5),(4388,10.5),(4421,7.0),(4455,11.0),(4488,7.5),(4521,10.5),(4555,6.5),(4589,10.5),(4622,6.5),(4656,10.0),(4723,7.0),(4790,10.5),(4857,6.0),(4924,9.5),(4990,6.5),(5057,9.5),(5124,6.0),(5191,9.5),(5258,6.0),(5325,9.0),(5392,5.5),(5459,8.5),(5526,5.5),(5593,8.5),(5660,5.0),(5727,8.0),(5794,5.5),(5860,8.0),(5927,4.5),(5994,7.5),(6061,1.5),(6094,7.0),(6161,5.0),(6228,7.5),(6295,4.5),(6362,7.0),(6428,4.5),(6495,6.5),(6629,8.0),(6696,10.0),(6796,7.0),(6897,5.5),(6917,18.8),(6937,5.0),(7031,6.0),(7164,3.8),(7298,5.5),(7432,3.5),(7566,5.0),(7700,3.0),(7833,4.5),(7967,2.5),(8101,4.0),(8235,2.2),(8369,3.8),(8502,2.0),(8636,3.5),(8770,2.0),(8837,3.5)],
]

SN_NAMES = ['PS15cwo', 'SN2014G', 'SN2016B', 'SN2016cok',
            'SN2016jfu', 'SN2017aub', 'SN2018aoq', 'SN2018bek']
XTICKS = [4000, 6000, 8000]

# ===================== LAYOUT / STYLE =====================
BLUE = '#4682b4'
RED = '#b22222'
W_PX, H_PX = 1395, 1596
COL_LEFT_PX = [86, 412, 738, 1063]
ROW_TOP_PX = [7, 773]
AX_W_PX, AX_H_PX = 310, 731
XLIM = (3280, 9500)
YLIM = (0, 73.1)
LABEL_X = 7550
NAME_X = 6000

panels = [
    (PS15CWO_PHASES, PS15CWO_SPECTRA, PS15CWO_RAW),
    (SN2014G_PHASES, SN2014G_SPECTRA, SN2014G_RAW),
    (SN2016B_PHASES, SN2016B_SPECTRA, SN2016B_RAW),
    (SN2016COK_PHASES, SN2016COK_SPECTRA, SN2016COK_RAW),
    (SN2016JFU_PHASES, SN2016JFU_SPECTRA, SN2016JFU_RAW),
    (SN2017AUB_PHASES, SN2017AUB_SPECTRA, SN2017AUB_RAW),
    (SN2018AOQ_PHASES, SN2018AOQ_SPECTRA, SN2018AOQ_RAW),
    (SN2018BEK_PHASES, SN2018BEK_SPECTRA, SN2018BEK_RAW),
]
# per panel: name y, y tick step, number of inner ticks, blue lw, raw lw, red lw
PANEL_STYLE = [
    (67.6, 10.44, 6, 3.6, 4.2, 2.4),
    (69.6, 10.44, 6, 1.4, 1.6, 2.0),
    (69.1, 12.18, 5, 1.4, 1.6, 2.0),
    (70.2, 9.14, 7, 2.3, 1.8, 2.0),
    (70.3, 9.14, 7, 2.3, 2.2, 2.4),
    (70.3, 9.14, 7, 2.3, 2.2, 2.4),
    (66.5, 12.18, 5, 1.8, 1.6, 2.0),
    (70.3, 9.14, 7, 2.3, 2.2, 2.4),
]
LABEL_Y = [
    [64.7, 59.2, 54.1, 49.3, 44.6, 38.3, 35.0, 29.8, 24.1, 18.1, 12.1],
    [62.8, 56.1, 41.6, 31.5, 18.5, 6.3],
    [57.1, 46.1, 35.0, 22.8, 8.6],
    [62.2, 55.5, 47.7, 34.9, 28.3, 19.0, 10.7],
    [61.8, 52.0, 42.8, 35.9, 24.5, 18.6],
    [60.1, 50.9, 42.6, 34.7, 24.1, 13.6, 6.0],
    [63.7, 57.5, 51.0, 45.7, 39.0, 33.1, 27.6, 21.5, 15.4, 9.1],
    [60.4, 51.8, 41.9, 33.8, 25.5, 16.2, 7.0],
]

plt.rcParams['font.family'] = ['DejaVu Sans']
fig = plt.figure(figsize=(W_PX / 100, H_PX / 100), dpi=100)

for i, (phases, spectra, raws) in enumerate(panels):
    row, col = divmod(i, 4)
    left = COL_LEFT_PX[col] / W_PX
    bottom = 1 - (ROW_TOP_PX[row] + AX_H_PX) / H_PX
    ax = fig.add_axes([left, bottom, AX_W_PX / W_PX, AX_H_PX / H_PX])
    name_y, ystep, nt, blue_lw, raw_lw, red_lw = PANEL_STYLE[i]

    for spec, raw in zip(spectra, raws):
        s = np.array(spec, dtype=float)
        if raw is not None:
            r = np.array(raw, dtype=float)
            ax.plot(r[:, 0], r[:, 1], color=BLUE, alpha=0.65, lw=raw_lw)
            ax.plot(s[:, 0], s[:, 1], color=RED, lw=red_lw)
        else:
            ax.plot(s[:, 0], s[:, 1], color=BLUE, lw=blue_lw)

    for ph, ly in zip(phases, LABEL_Y[i]):
        ax.text(LABEL_X, ly, ph, fontsize=17, va='center', ha='left', zorder=5)
    ax.text(NAME_X, name_y, SN_NAMES[i], fontsize=17, va='center', ha='left', zorder=5)

    ax.set_xlim(*XLIM)
    ax.set_ylim(*YLIM)
    ax.set_xticks(XTICKS)
    ax.set_yticks([ystep * k for k in range(1, nt + 1)])
    ax.set_yticklabels([])
    if row == 0:
        ax.set_xticklabels([])
    else:
        ax.set_xticklabels([str(t) for t in XTICKS], fontsize=23)
    ax.tick_params(direction='in', length=7, width=1.2, top=True, right=True,
                   colors='#333333', labelcolor='black', pad=8)
    for sp in ax.spines.values():
        sp.set_linewidth(1.6)
        sp.set_color('#333333')

fig.text(0.5, 1 - 1572 / H_PX, 'Rest Wavelength [Å]', ha='center', va='center', fontsize=23)
fig.text(25 / W_PX, 1 - 791 / H_PX, 'Scaled Flux + Constant', ha='center', va='center',
         rotation=90, fontsize=23)

fig.savefig('out.png', dpi=100)
